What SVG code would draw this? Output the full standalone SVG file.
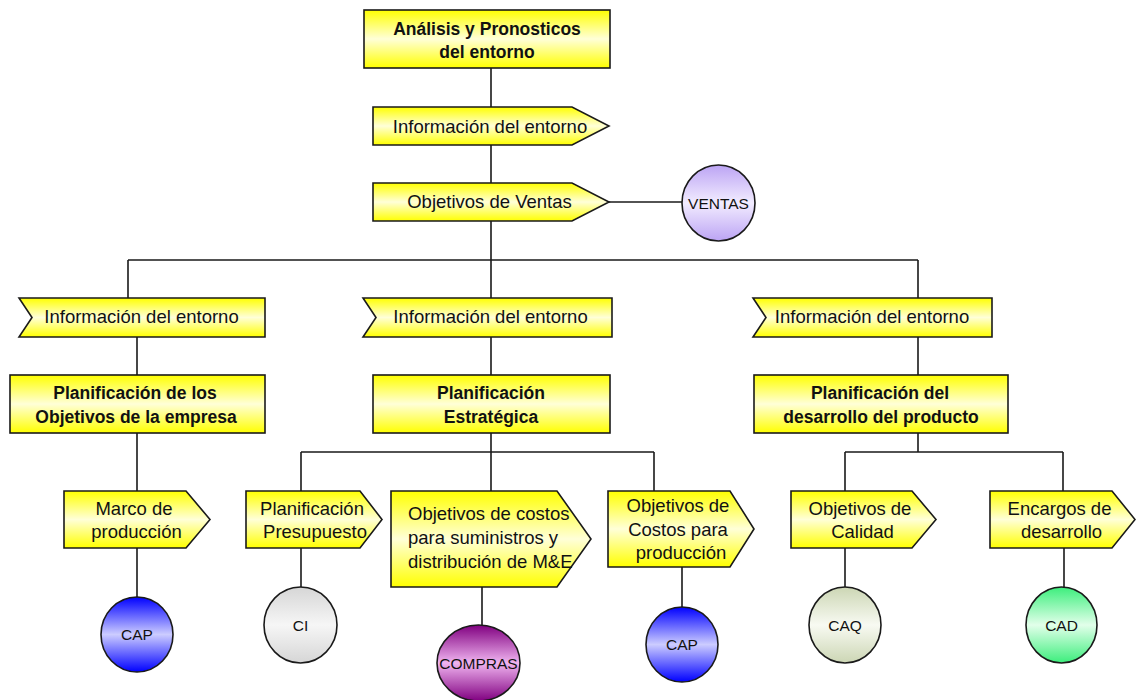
<svg xmlns="http://www.w3.org/2000/svg" width="1136" height="700" viewBox="0 0 1136 700">
  <defs>
    <linearGradient id="gYellow" x1="0" y1="0" x2="0" y2="1">
      <stop offset="0" stop-color="#ffff00"/>
      <stop offset="0.5" stop-color="#ffffd8"/>
      <stop offset="1" stop-color="#ffff00"/>
    </linearGradient>
    <linearGradient id="gBlue" x1="0" y1="0" x2="0" y2="1">
      <stop offset="0" stop-color="#0000ff"/>
      <stop offset="0.5" stop-color="#ccccff"/>
      <stop offset="1" stop-color="#0000ff"/>
    </linearGradient>
    <linearGradient id="gGray" x1="0" y1="0" x2="0" y2="1">
      <stop offset="0" stop-color="#d6d6d6"/>
      <stop offset="0.5" stop-color="#f6f6f6"/>
      <stop offset="1" stop-color="#d6d6d6"/>
    </linearGradient>
    <linearGradient id="gPurple" x1="0" y1="0" x2="0" y2="1">
      <stop offset="0" stop-color="#800080"/>
      <stop offset="0.5" stop-color="#f0b4f0"/>
      <stop offset="1" stop-color="#800080"/>
    </linearGradient>
    <linearGradient id="gLilac" x1="0" y1="0" x2="0" y2="1">
      <stop offset="0" stop-color="#bca4f4"/>
      <stop offset="0.5" stop-color="#f2ecff"/>
      <stop offset="1" stop-color="#bca4f4"/>
    </linearGradient>
    <linearGradient id="gOlive" x1="0" y1="0" x2="0" y2="1">
      <stop offset="0" stop-color="#ccd6b4"/>
      <stop offset="0.5" stop-color="#f8faf2"/>
      <stop offset="1" stop-color="#ccd6b4"/>
    </linearGradient>
    <linearGradient id="gGreen" x1="0" y1="0" x2="0" y2="1">
      <stop offset="0" stop-color="#3cee7c"/>
      <stop offset="0.5" stop-color="#e2ffea"/>
      <stop offset="1" stop-color="#3cee7c"/>
    </linearGradient>
  </defs>
  <style>
    .shape { fill: url(#gYellow); stroke: #1a1a1a; stroke-width: 1.6; }
    .circ { stroke: #1a1a1a; stroke-width: 1.6; }
    .t { font-family: "Liberation Sans", Arial, sans-serif; font-size: 18.5px; fill: #111; }
    .b { font-family: "Liberation Sans", Arial, sans-serif; font-size: 17.5px; font-weight: bold; fill: #111; text-anchor: middle; }
    .m { text-anchor: middle; }
    .c { font-family: "Liberation Sans", Arial, sans-serif; font-size: 15.5px; fill: #111; text-anchor: middle; }
    .wire { fill: none; stroke: #1a1a1a; stroke-width: 1.6; }
  </style>

  <rect width="1136" height="700" fill="#ffffff"/>

  <!-- connectors -->
  <g id="connectors" class="wire">
    <path d="M491 68V107M491 145V183M491 221V260"/>
    <path d="M609 202H682"/>
    <path d="M128 260H918M128 260V298M491 260V298M918 260V298"/>
    <path d="M137 337V375M491 337V375M918 337V375"/>
    <path d="M137 433V491M137 548V597"/>
    <path d="M491 433V452M301 452H654M301 452V491M491 452V491M654 452V491"/>
    <path d="M301 548V587M482 587V625M682 567V607"/>
    <path d="M918 433V452M845 452H1063M845 452V491M1063 452V491"/>
    <path d="M845 548V587M1064 548V587"/>
  </g>

  <!-- top level -->
  <g id="analisis">
    <rect class="shape" x="364" y="10" width="246" height="58"/>
    <text class="b" x="487" y="35">Análisis y Pronosticos</text>
    <text class="b" x="487" y="58">del entorno</text>
  </g>
  <g id="info-top">
    <polygon class="shape" points="373,107 572,107 609,126 572,145 373,145"/>
    <text class="t m" x="490" y="133">Información del entorno</text>
  </g>
  <g id="objetivos-ventas">
    <polygon class="shape" points="373,183 572,183 609,202 572,221 373,221"/>
    <text class="t m" x="489.5" y="208">Objetivos de Ventas</text>
  </g>
  <g id="ventas">
    <ellipse class="circ" cx="718.5" cy="203" rx="36.5" ry="38" fill="url(#gLilac)"/>
    <text class="c" x="718.5" y="208.5">VENTAS</text>
  </g>

  <!-- second level -->
  <g id="info-left">
    <polygon class="shape" points="19,298 265,298 265,337 19,337 32,317.5"/>
    <text class="t m" x="141.5" y="323">Información del entorno</text>
  </g>
  <g id="info-mid">
    <polygon class="shape" points="363,298 612,298 612,337 363,337 376,317.5"/>
    <text class="t m" x="490.5" y="323">Información del entorno</text>
  </g>
  <g id="info-right">
    <polygon class="shape" points="753,298 992,298 992,337 753,337 766,317.5"/>
    <text class="t m" x="872" y="323">Información del entorno</text>
  </g>

  <g id="plan-objetivos">
    <rect class="shape" x="10" y="375" width="255" height="58"/>
    <text class="b" x="135" y="399">Planificación de los</text>
    <text class="b" x="136" y="423">Objetivos de la empresa</text>
  </g>
  <g id="plan-estrategica">
    <rect class="shape" x="373" y="375" width="237" height="58"/>
    <text class="b" x="491" y="399">Planificación</text>
    <text class="b" x="491" y="423">Estratégica</text>
  </g>
  <g id="plan-desarrollo">
    <rect class="shape" x="754" y="375" width="254" height="58"/>
    <text class="b" x="880" y="399">Planificación del</text>
    <text class="b" x="881" y="423">desarrollo del producto</text>
  </g>

  <!-- third level -->
  <g id="marco">
    <polygon class="shape" points="64,491 186,491 210,519.5 186,548 64,548"/>
    <text class="t m" x="134" y="515">Marco de</text>
    <text class="t m" x="136.5" y="538">producción</text>
  </g>
  <g id="presupuesto">
    <polygon class="shape" points="246,491 360,491 382,519.5 360,548 246,548"/>
    <text class="t m" x="312" y="515">Planificación</text>
    <text class="t m" x="315" y="538">Presupuesto</text>
  </g>
  <g id="costos-suministros">
    <polygon class="shape" points="391,491 557,491 591,539 557,587 391,587"/>
    <text class="t" x="408" y="520">Objetivos de costos</text>
    <text class="t" x="408" y="544">para suministros y</text>
    <text class="t" x="408" y="568">distribución de M&amp;E</text>
  </g>
  <g id="costos-produccion">
    <polygon class="shape" points="608,491 730,491 754,529 730,567 608,567"/>
    <text class="t m" x="678" y="512">Objetivos de</text>
    <text class="t m" x="678" y="536">Costos para</text>
    <text class="t m" x="681" y="559">producción</text>
  </g>
  <g id="calidad">
    <polygon class="shape" points="791,491 912,491 936,519.5 912,548 791,548"/>
    <text class="t m" x="860" y="515">Objetivos de</text>
    <text class="t m" x="862.5" y="538">Calidad</text>
  </g>
  <g id="encargos">
    <polygon class="shape" points="990,491 1112,491 1135,519.5 1112,548 990,548"/>
    <text class="t m" x="1059.5" y="515">Encargos de</text>
    <text class="t m" x="1061.5" y="538">desarrollo</text>
  </g>

  <!-- departments -->
  <g id="cap-1">
    <ellipse class="circ" cx="137" cy="634.5" rx="36" ry="37.5" fill="url(#gBlue)"/>
    <text class="c" x="137" y="640">CAP</text>
  </g>
  <g id="ci">
    <ellipse class="circ" cx="300.5" cy="625" rx="36.5" ry="38" fill="url(#gGray)"/>
    <text class="c" x="300.5" y="630.5">CI</text>
  </g>
  <g id="compras">
    <ellipse class="circ" cx="478.5" cy="663" rx="41.5" ry="38" fill="url(#gPurple)"/>
    <text class="c" x="478.5" y="668.5">COMPRAS</text>
  </g>
  <g id="cap-2">
    <ellipse class="circ" cx="682" cy="644.5" rx="36" ry="37.5" fill="url(#gBlue)"/>
    <text class="c" x="682" y="650">CAP</text>
  </g>
  <g id="caq">
    <ellipse class="circ" cx="845" cy="625" rx="36" ry="38" fill="url(#gOlive)"/>
    <text class="c" x="845" y="630.5">CAQ</text>
  </g>
  <g id="cad">
    <ellipse class="circ" cx="1061.5" cy="625" rx="35.5" ry="38" fill="url(#gGreen)"/>
    <text class="c" x="1061.5" y="630.5">CAD</text>
  </g>
</svg>
